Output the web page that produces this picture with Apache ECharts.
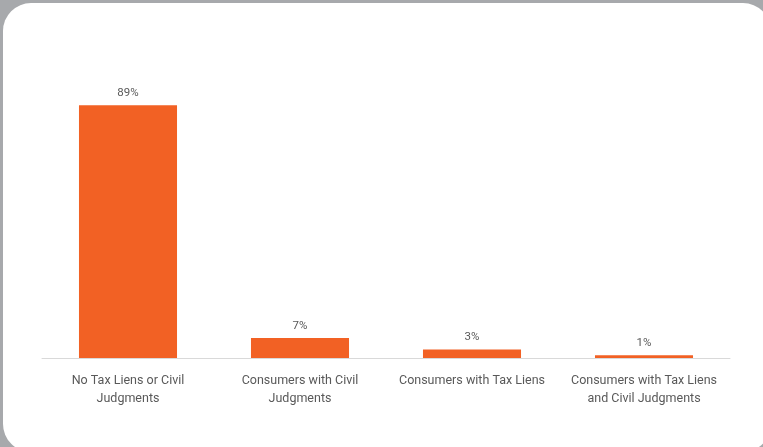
<!DOCTYPE html>
<html><head><meta charset="utf-8">
<script src="https://cdn.jsdelivr.net/npm/echarts@6/dist/echarts.min.js"></script>
<style>html,body{margin:0;padding:0;background:#a7a9ac;}#c{width:763px;height:447px;}</style>
</head><body><div id="c"></div>
<script>
var categories = ["No Tax Liens or Civil\nJudgments", "Consumers with Civil\nJudgments", "Consumers with Tax Liens", "Consumers with Tax Liens\nand Civil Judgments"];
var values = [89, 7, 3, 1];
var chart = echarts.init(document.getElementById('c'));
chart.setOption({
  backgroundColor: '#a7a9ac',
  animation: false,
  graphic: [{type:'rect', shape:{x:3, y:3, width:768, height:449, r:28}, style:{fill:'#ffffff'}, z:-10}],
  grid: {left: 42, right: 33, top: 74, bottom: 89},
  xAxis: {type:'category', data: categories,
    axisLine:{lineStyle:{color:'#d9d9d9', width:1}}, axisTick:{show:false},
    axisLabel:{color:'#595959', fontFamily:'Roboto', fontSize:12.5, lineHeight:18, margin:14, interval:0}},
  yAxis: {type:'value', min:0, max:100, show:false},
  series: [{type:'bar', data: values, barWidth:'57%', itemStyle:{color:'#f26124'},
    label:{show:true, position:'top', formatter:'{c}%', color:'#595959', fontFamily:'Roboto', fontSize:11.5, distance:6}}]
});
</script></body></html>
